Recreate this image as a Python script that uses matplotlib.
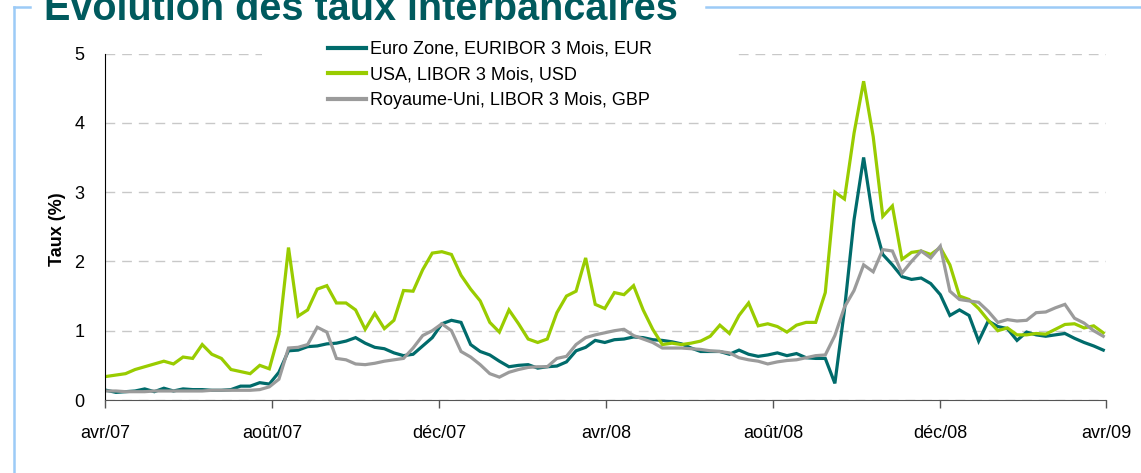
import matplotlib
matplotlib.use("Agg")
import matplotlib.pyplot as plt
import matplotlib.dates as mdates
from matplotlib.lines import Line2D
from matplotlib.patches import Rectangle
import pandas as pd

plt.rcParams['font.family'] = ['Liberation Sans', 'DejaVu Sans']

# weekly observations, first Monday of April 2007 to end of March 2009
weeks = pd.date_range("2007-04-02", "2009-03-30", freq="W-MON")

eur_3m = [0.14, 0.11, 0.12, 0.13, 0.16, 0.12, 0.17, 0.13, 0.16, 0.15,
          0.15, 0.14, 0.14, 0.15, 0.20, 0.20, 0.25, 0.23, 0.40, 0.71,
          0.72, 0.77, 0.78, 0.81, 0.82, 0.85, 0.90, 0.82, 0.76, 0.74,
          0.68, 0.64, 0.66, 0.78, 0.90, 1.10, 1.15, 1.12, 0.80, 0.70,
          0.65, 0.56, 0.48, 0.50, 0.51, 0.46, 0.48, 0.49, 0.55, 0.71,
          0.76, 0.86, 0.83, 0.87, 0.88, 0.91, 0.90, 0.87, 0.86, 0.84,
          0.81, 0.75, 0.70, 0.70, 0.70, 0.66, 0.72, 0.66, 0.63, 0.65,
          0.68, 0.64, 0.67, 0.61, 0.60, 0.60, 0.24, 1.30, 2.60, 3.50,
          2.60, 2.10, 1.95, 1.78, 1.74, 1.76, 1.68, 1.52, 1.22, 1.30,
          1.22, 0.85, 1.14, 1.06, 1.03, 0.86, 0.98, 0.94, 0.92, 0.94,
          0.96, 0.89, 0.83, 0.78, 0.72]

usd_3m = [0.34, 0.36, 0.38, 0.44, 0.48, 0.52, 0.56, 0.52, 0.62, 0.60,
          0.80, 0.66, 0.60, 0.44, 0.41, 0.38, 0.50, 0.45, 0.95, 2.20,
          1.21, 1.30, 1.60, 1.65, 1.40, 1.40, 1.30, 1.02, 1.25, 1.03,
          1.15, 1.58, 1.57, 1.88, 2.12, 2.14, 2.10, 1.80, 1.60, 1.43,
          1.12, 0.98, 1.30, 1.10, 0.88, 0.83, 0.88, 1.26, 1.50, 1.57,
          2.05, 1.38, 1.32, 1.55, 1.52, 1.65, 1.30, 1.02, 0.80, 0.82,
          0.80, 0.82, 0.85, 0.92, 1.08, 0.96, 1.22, 1.40, 1.07, 1.10,
          1.06, 0.98, 1.08, 1.12, 1.12, 1.55, 3.00, 2.90, 3.85, 4.60,
          3.80, 2.65, 2.80, 2.03, 2.13, 2.15, 2.10, 2.20, 1.95, 1.50,
          1.45, 1.32, 1.15, 1.00, 1.04, 0.94, 0.94, 0.96, 0.95, 1.02,
          1.09, 1.10, 1.04, 1.07, 0.97]

gbp_3m = [0.13, 0.13, 0.12, 0.12, 0.12, 0.13, 0.13, 0.13, 0.13, 0.13,
          0.13, 0.14, 0.14, 0.14, 0.14, 0.14, 0.15, 0.19, 0.30, 0.75,
          0.76, 0.80, 1.05, 0.98, 0.60, 0.58, 0.52, 0.51, 0.53, 0.56,
          0.58, 0.60, 0.75, 0.93, 1.00, 1.10, 1.00, 0.70, 0.62, 0.51,
          0.38, 0.33, 0.40, 0.44, 0.47, 0.48, 0.48, 0.60, 0.63, 0.80,
          0.90, 0.94, 0.97, 1.00, 1.02, 0.93, 0.88, 0.83, 0.75, 0.75,
          0.75, 0.74, 0.73, 0.71, 0.70, 0.68, 0.61, 0.58, 0.56, 0.52,
          0.55, 0.57, 0.58, 0.61, 0.64, 0.65, 0.93, 1.34, 1.58, 1.95,
          1.85, 2.17, 2.15, 1.83, 2.00, 2.15, 2.05, 2.22, 1.57, 1.45,
          1.43, 1.41, 1.28, 1.12, 1.16, 1.14, 1.15, 1.26, 1.27, 1.33,
          1.38, 1.18, 1.11, 1.00, 0.92]

labels = ["Euro Zone, EURIBOR 3 Mois, EUR",
          "USA, LIBOR 3 Mois, USD",
          "Royaume-Uni, LIBOR 3 Mois, GBP"]
colors = ["#006B6B", "#99CC00", "#9B9B9B"]

mois_fr = {4: "avr", 8: "août", 12: "déc"}

W, H = 1141, 473
fig = plt.figure(figsize=(W / 100, H / 100), dpi=100)
ax = fig.add_axes([105 / W, 73 / H, 1001 / W, 346.5 / H])

for serie, col in zip([eur_3m, usd_3m, gbp_3m], colors):
    ax.plot(weeks, serie, color=col, lw=2.3, solid_joinstyle='miter')

ax.set_xlim(pd.Timestamp("2007-04-01"), pd.Timestamp("2009-04-01"))
ax.set_ylim(0, 5)
ax.set_yticks([0, 1, 2, 3, 4, 5])
ax.yaxis.grid(True, color="#C8C8C8", lw=1, linestyle=(0, (7, 5)))
ax.set_axisbelow(True)

ax.xaxis.set_major_locator(mdates.MonthLocator(bymonth=[4, 8, 12]))
ax.xaxis.set_major_formatter(
    plt.FuncFormatter(lambda v, p: "%s/%s" % (mois_fr[mdates.num2date(v).month],
                                             mdates.num2date(v).strftime("%y"))))

for s in ["top", "right"]:
    ax.spines[s].set_visible(False)
ax.spines["left"].set_color("black")
ax.spines["bottom"].set_color("#555555")
ax.tick_params(axis="y", length=0, pad=15, labelsize=13)
ax.tick_params(axis="x", length=6, width=1, color="#555555", pad=12, labelsize=13)

ax.set_ylabel("Taux (%)", fontsize=13, fontweight="bold")
ax.yaxis.set_label_coords(-0.039, 0.4935)

# white box behind the legend hides the top grid line
fig.add_artist(Rectangle((262 / W, 1 - 112 / H), 476 / W, 80 / H,
                         transform=fig.transFigure, facecolor="white",
                         edgecolor="none", zorder=2))
handles = [Line2D([], [], color=c, lw=3) for c in colors]
fig.legend(handles, labels, loc="upper left", bbox_to_anchor=(328 / W, 1 - 41 / H),
           frameon=False, fontsize=13, handlelength=2.1, handletextpad=0.25,
           labelspacing=0.47, borderpad=0, borderaxespad=0)

fig.text(44 / W, 1 - 20 / H, "Evolution des taux interbancaires", fontsize=28.5,
         fontweight="bold", color="#005A5E", va="baseline")

# light blue frame around the block
blue = "#9CCBF7"
fig.add_artist(Line2D([14 / W, 14 / W], [0, 1 - 7 / H], color=blue, lw=1.8))
fig.add_artist(Line2D([14 / W, 30 / W], [1 - 7 / H, 1 - 7 / H], color=blue, lw=1.8))
fig.add_artist(Line2D([706 / W, 1], [1 - 7 / H, 1 - 7 / H], color=blue, lw=1.8))

fig.savefig("out.png", dpi=100)
